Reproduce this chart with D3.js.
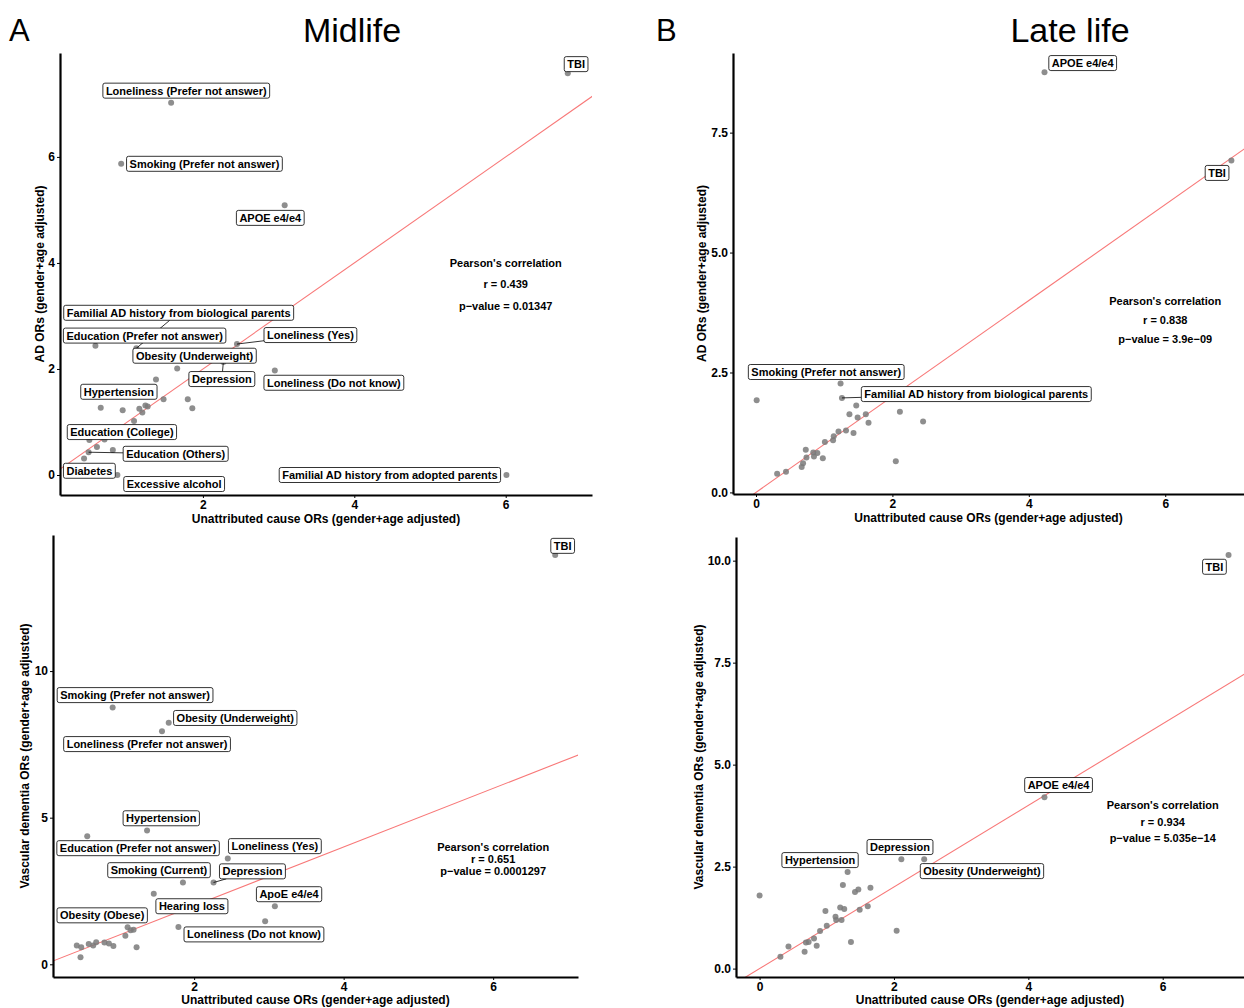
<!DOCTYPE html>
<html>
<head>
<meta charset="utf-8">
<script src="https://cdn.jsdelivr.net/npm/d3@7"></script>
<style>
  body { margin: 0; background: #fff; }
  svg { display: block; font-family: "Liberation Sans", Arial, Helvetica, sans-serif; }
</style>
</head>
<body>
<svg id="chart" width="1244" height="1008"></svg>
<script>
// labelled points: [text, x, y, label x, label y, draw segment]
var midAdLabels = [
  ["TBI", 6.82, 7.58, 6.93, 7.75, 0],
  ["Loneliness (Prefer not answer)", 1.58, 7.02, 1.78, 7.25, 0],
  ["Smoking (Prefer not answer)", 0.92, 5.87, 2.02, 5.87, 0],
  ["APOE e4/e4", 3.08, 5.09, 2.89, 4.85, 0],
  ["Familial AD history from biological parents", 1.12, 2.39, 1.68, 3.06, 1],
  ["Education (Prefer not answer)", 0.58, 2.44, 1.23, 2.63, 0],
  ["Loneliness (Yes)", 2.45, 2.47, 3.42, 2.64, 1],
  ["Obesity (Underweight)", 1.66, 2.01, 1.89, 2.25, 0],
  ["Depression", 2.27, 2.13, 2.25, 1.81, 1],
  ["Loneliness (Do not know)", 2.95, 1.97, 3.73, 1.74, 0],
  ["Hypertension", 1.38, 1.80, 0.89, 1.57, 0],
  ["Education (College)", 0.50, 0.66, 0.93, 0.81, 0],
  ["Education (Others)", 0.49, 0.43, 1.64, 0.40, 1],
  ["Diabetes", 0.43, 0.31, 0.50, 0.08, 0],
  ["Excessive alcohol", 0.87, 0.0, 1.62, -0.17, 0],
  ["Familial AD history from adopted parents", 6.01, 0.0, 4.47, 0.0, 0]
];
var midAdOther = [[1.48,1.43],[1.80,1.43],[1.86,1.26],[0.65,1.27],[0.94,1.22],[1.16,1.25],
  [1.24,1.31],[1.27,1.29],[1.20,1.18],[1.09,1.02],[0.70,0.67],[0.60,0.53],[0.81,0.47]];

var lateAdLabels = [
  ["APOE e4/e4", 4.23, 8.76, 4.79, 8.95, 0],
  ["TBI", 6.97, 6.92, 6.76, 6.66, 0],
  ["Smoking (Prefer not answer)", 1.24, 2.27, 1.03, 2.51, 0],
  ["Familial AD history from biological parents", 1.26, 1.97, 3.23, 2.05, 1]
];
var lateAdOther = [[0.01,1.92],[1.47,1.81],[1.37,1.63],[1.61,1.63],[1.49,1.56],[1.65,1.45],
  [2.11,1.68],[2.45,1.48],[1.32,1.29],[1.43,1.24],[1.21,1.27],[1.14,1.17],[1.13,1.09],
  [1.01,1.05],[0.73,0.89],[0.74,0.73],[0.84,0.83],[0.90,0.82],[0.85,0.75],[0.98,0.71],
  [0.69,0.61],[0.67,0.53],[0.44,0.43],[0.31,0.39],[2.05,0.65]];

var midVdLabels = [
  ["TBI", 6.83, 13.96, 6.93, 14.27, 0],
  ["Smoking (Prefer not answer)", 0.91, 8.76, 1.21, 9.18, 0],
  ["Obesity (Underweight)", 1.66, 8.24, 2.55, 8.40, 0],
  ["Loneliness (Prefer not answer)", 1.57, 7.95, 1.37, 7.51, 0],
  ["Hypertension", 1.37, 4.56, 1.56, 4.98, 0],
  ["Education (Prefer not answer)", 0.57, 4.37, 1.25, 3.96, 0],
  ["Loneliness (Yes)", 2.45, 3.61, 3.08, 4.03, 0],
  ["Smoking (Current)", 1.85, 2.79, 1.53, 3.21, 0],
  ["Depression", 2.26, 2.79, 2.78, 3.17, 1],
  ["ApoE e4/e4", 3.08, 1.98, 3.27, 2.39, 0],
  ["Hearing loss", 1.46, 2.41, 1.97, 1.98, 0],
  ["Obesity (Obese)", 1.08, 0.97, 0.77, 1.67, 0],
  ["Loneliness (Do not know)", 2.95, 1.47, 2.80, 1.02, 0]
];
var midVdOther = [[1.79,1.27],[1.11,1.26],[1.19,1.18],[1.15,1.16],[1.23,0.58],[0.43,0.64],
  [0.49,0.58],[0.59,0.69],[0.65,0.64],[0.69,0.75],[0.80,0.74],[0.86,0.71],[0.92,0.62],[0.48,0.24]];

var lateVdLabels = [
  ["TBI", 6.98, 10.14, 6.77, 9.85, 0],
  ["APOE e4/e4", 4.24, 4.20, 4.45, 4.50, 0],
  ["Depression", 2.11, 2.68, 2.09, 2.98, 0],
  ["Hypertension", 1.31, 2.37, 0.90, 2.66, 0],
  ["Obesity (Underweight)", 2.45, 2.68, 3.31, 2.39, 0]
];
var lateVdOther = [[0.0,1.79],[1.24,2.05],[1.42,1.88],[1.47,1.94],[1.65,1.98],[1.20,1.50],
  [1.26,1.46],[1.49,1.44],[1.61,1.53],[0.98,1.41],[1.13,1.27],[1.14,1.19],[1.22,1.19],
  [1.00,1.05],[0.90,0.92],[0.81,0.74],[0.73,0.65],[0.69,0.64],[0.85,0.56],[0.67,0.41],
  [0.43,0.54],[0.31,0.29],[1.36,0.65],[2.04,0.93]];

var statsMidAd = ["Pearson's correlation", "r = 0.439", "p\u2212value = 0.01347"];
var statsLateAd = ["Pearson's correlation", "r = 0.838", "p\u2212value = 3.9e\u221209"];
var statsMidVd = ["Pearson's correlation", "r = 0.651", "p\u2212value = 0.0001297"];
var statsLateVd = ["Pearson's correlation", "r = 0.934", "p\u2212value = 5.035e\u221214"];

var xTicksMid = [2, 4, 6];
var xTicksLate = [0, 2, 4, 6];
var yTicksMidAd = [0, 2, 4, 6];
var yTicksLateAd = [0, 2.5, 5, 7.5];
var yTicksMidVd = [0, 5, 10];
var yTicksLateVd = [0, 2.5, 5, 7.5, 10];

var xTitle = "Unattributed cause ORs (gender+age adjusted)";

var panels = [
  {box: [60, 592, 53, 495], xd: [0.112, 7.14], yd: [-0.377, 7.96], xt: xTicksMid, yt: yTicksMidAd, yf: d3.format("d"),
   ytitle: "AD ORs (gender+age adjusted)", ytx: 40, xtb: 523, labels: midAdLabels, other: midAdOther, stats: statsMidAd, gap: 21.5},
  {box: [733, 1244, 53, 494], xd: [-0.337, 7.155], yd: [-0.033, 9.16], xt: xTicksLate, yt: yTicksLateAd, yf: d3.format(".1f"),
   ytitle: "AD ORs (gender+age adjusted)", ytx: 702, xtb: 522, labels: lateAdLabels, other: lateAdOther, stats: statsLateAd, gap: 19},
  {box: [53, 578, 535, 977], xd: [0.112, 7.135], yd: [-0.433, 14.64], xt: xTicksMid, yt: yTicksMidVd, yf: d3.format("d"),
   ytitle: "Vascular dementia ORs (gender+age adjusted)", ytx: 25, xtb: 1004, labels: midVdLabels, other: midVdOther, stats: statsMidVd, gap: 12},
  {box: [736, 1244, 537, 977], xd: [-0.351, 7.21], yd: [-0.206, 10.58], xt: xTicksLate, yt: yTicksLateVd, yf: d3.format(".1f"),
   ytitle: "Vascular dementia ORs (gender+age adjusted)", ytx: 699, xtb: 1004, labels: lateVdLabels, other: lateVdOther, stats: statsLateVd, gap: 16.5}
];

var svg = d3.select("#chart");

// headings
svg.append("text").text("A").attr("x", 9).attr("y", 41).attr("font-size", 31);
svg.append("text").text("B").attr("x", 656).attr("y", 41).attr("font-size", 31);
svg.append("text").text("Midlife").attr("x", 352).attr("y", 42).attr("font-size", 34).attr("text-anchor", "middle");
svg.append("text").text("Late life").attr("x", 1070).attr("y", 42).attr("font-size", 34).attr("text-anchor", "middle");

panels.forEach(function(p){
    var L = p.box[0], R = p.box[1], T = p.box[2], B = p.box[3];
    var x = d3.scaleLinear().domain(p.xd).range([L, R]);
    var y = d3.scaleLinear().domain(p.yd).range([B, T]);
    var g = svg.append("g");

    var clip = "clip" + L + "_" + T;
    g.append("clipPath").attr("id", clip).append("rect")
        .attr("x", L).attr("y", T).attr("width", R - L).attr("height", B - T);

    // y = x reference line
    var lo = Math.max(p.xd[0], p.yd[0]), hi = Math.min(p.xd[1], p.yd[1]);
    g.append("line")
        .attr("clip-path", "url(#" + clip + ")")
        .attr("x1", x(lo - 1)).attr("y1", y(lo - 1))
        .attr("x2", x(hi + 1)).attr("y2", y(hi + 1))
        .style("stroke", "#f87878").style("stroke-width", 1.1);

    // axes
    var xa = g.append("g").attr("transform", "translate(0," + B + ")")
        .call(d3.axisBottom(x).tickValues(p.xt).tickFormat(d3.format("d")).tickSize(3).tickSizeOuter(0).tickPadding(2));
    var ya = g.append("g").attr("transform", "translate(" + L + ",0)")
        .call(d3.axisLeft(y).tickValues(p.yt).tickFormat(p.yf).tickSize(3).tickSizeOuter(0).tickPadding(2));
    [xa, ya].forEach(function(a){
        a.select(".domain").style("stroke", "#000").style("stroke-width", 2.2);
        a.selectAll(".tick line").style("stroke", "#000").style("stroke-width", 1);
        a.selectAll(".tick text").style("fill", "#000").style("font-size", "12px").style("font-weight", "bold")
            .style("font-family", "'Liberation Sans', Arial, sans-serif");
    });

    g.append("text").text(xTitle)
        .attr("x", (L + R) / 2 - (p.xd[0] < 0 ? 0 : 0)).attr("y", p.xtb)
        .attr("text-anchor", "middle").attr("font-size", 12).attr("font-weight", "bold");
    g.append("text").text(p.ytitle)
        .attr("transform", "translate(" + (p.ytx + 4) + "," + (T + B) / 2 + ") rotate(-90)")
        .attr("text-anchor", "middle").attr("font-size", 12).attr("font-weight", "bold");

    // points
    var pts = p.other.concat(p.labels.map(function(d){ return [d[1], d[2]]; }));
    g.selectAll("circle.pt").data(pts).enter().append("circle")
        .attr("cx", function(d){ return x(d[0]); })
        .attr("cy", function(d){ return y(d[1]); })
        .attr("r", 3)
        .style("fill", "#7a7a7a").style("opacity", 0.85);

    // labels
    var lab = g.selectAll("g.lab").data(p.labels).enter().append("g");
    var txt = lab.append("text").text(function(d){ return d[0]; })
        .attr("x", function(d){ return x(d[3]); })
        .attr("y", function(d){ return y(d[4]) + 4; })
        .attr("text-anchor", "middle").attr("font-size", 11).attr("font-weight", "bold");
    txt.each(function(d){
        var w = this.getComputedTextLength() + 6, h = 15;
        var cx = x(d[3]), cy = y(d[4]);
        d.w = w; d.h = h;
        if (d[5]) {
            var px = x(d[1]), py = y(d[2]);
            var dx = px - cx, dy = py - cy;
            var s = Math.min(dx ? (w / 2) / Math.abs(dx) : 1e9, dy ? (h / 2) / Math.abs(dy) : 1e9);
            g.insert("line", "g.lab0")
                .attr("x1", px).attr("y1", py)
                .attr("x2", cx + s * dx).attr("y2", cy + s * dy)
                .style("stroke", "#000").style("stroke-width", 0.8);
        }
    });
    lab.insert("rect", "text")
        .attr("x", function(d){ return x(d[3]) - d.w / 2; })
        .attr("y", function(d){ return y(d[4]) - d.h / 2; })
        .attr("width", function(d){ return d.w; })
        .attr("height", function(d){ return d.h; })
        .attr("rx", 2).attr("ry", 2)
        .style("fill", "#fff").style("stroke", "#000").style("stroke-width", 0.8);
    lab.raise();

    // correlation text
    g.selectAll("text.st").data(p.stats).enter().append("text")
        .text(function(d){ return d; })
        .attr("x", x(6))
        .attr("y", function(d, i){ return y(4) + 4 + i * p.gap; })
        .attr("text-anchor", "middle").attr("font-size", 11).attr("font-weight", "bold");
});
</script>
</body>
</html>
